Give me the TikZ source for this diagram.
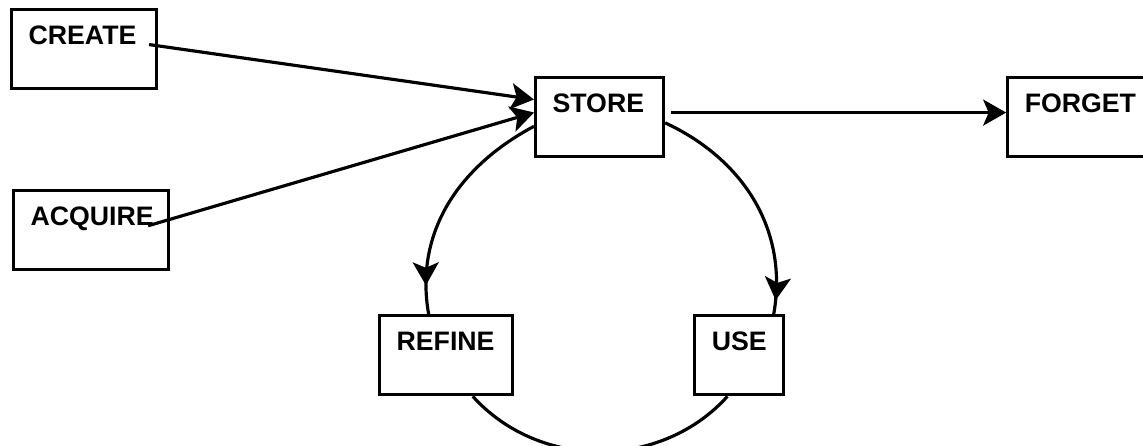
\documentclass[tikz,border=0pt]{standalone}
\usepackage{fontspec}
\setmainfont{Liberation Sans}
\usetikzlibrary{positioning, arrows.meta, decorations.markings}
\tikzset{box/.style = {draw, rectangle, line width=1.8pt, align=left, inner xsep=0.34cm, inner ysep=0.32cm, text height=0.38cm, text depth=0.56cm, font=\bfseries\fontsize{15.2}{18}\selectfont}}
\tikzset{midarrow/.style = {postaction={decorate}, decoration={markings, mark=at position #1 with {\arrow{>}}}}}

\begin{document}
\begin{tikzpicture}[>={Stealth[length=0.46cm, width=0.52cm, inset=0.11cm]}, line width=1.8pt]
  \useasboundingbox (0,0) rectangle (22.86,-8.92);

  \node [box, text width=2.22cm, anchor=north west] (create) at (0.2,-0.16) {CREATE};
  \node [box, text width=2.42cm, below=1.98cm of create, xshift=0.14cm] (acquire) {ACQUIRE};
  \node [box, text width=1.88cm, anchor=north west] (store) at (10.68,-1.52) {STORE};
  \node [box, text width=2.32cm, right=6.82cm of store] (forget) {FORGET};
  \node [box, text width=1.98cm, below=3.12cm of store, xshift=-3.07cm] (refine) {REFINE};
  \node [box, text width=1.10cm, right=3.58cm of refine] (use) {USE};

  \path[->] ([xshift=-0.18cm]create.base east) edge (store.165);
  \path[->] ([xshift=-0.44cm]acquire.base east) edge (store.176);
  \path[->] ([xshift=0.12cm]store.base east) edge (forget.base west);

  \path (store.188) edge [out=208, in=100, midarrow=-0.58cm] (refine.113);
  \path (store.355) edge [out=-25, in=80, midarrow=-0.28cm] (use.50);
  \path (refine.303) edge [out=-48, in=-132] (use.254);
\end{tikzpicture}
\end{document}
